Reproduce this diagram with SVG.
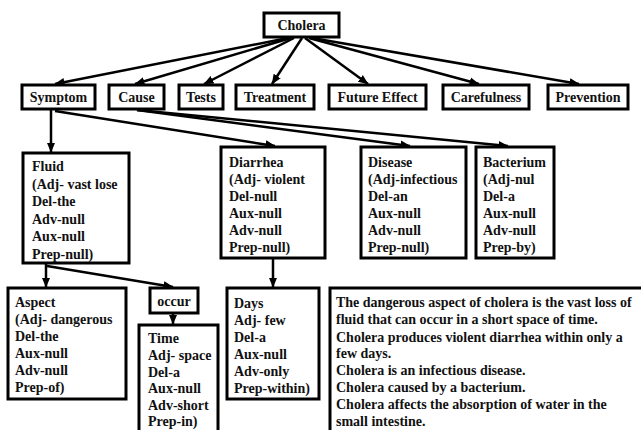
<svg xmlns="http://www.w3.org/2000/svg" width="641" height="430" viewBox="0 0 641 430">
  <style>
    .box { fill: #ffffff; stroke: #000000; stroke-width: 3; }
    .t { font-family: "Liberation Serif", "Times New Roman", serif; font-weight: bold; font-size: 14px; fill: #111111; }
    .c { text-anchor: middle; }
    .link { fill: none; stroke: #000000; stroke-width: 2.5; marker-end: url(#arrow); }
  </style>
  <defs>
    <marker id="arrow" markerUnits="userSpaceOnUse" markerWidth="10" markerHeight="10" viewBox="0 0 10 10" refX="9.5" refY="5" orient="auto">
      <path d="M0,0.8 L10,5 L0,9.2 z" fill="#000000"/>
    </marker>
  </defs>
  <rect width="641" height="430" fill="#ffffff"/>

  <!-- connectors -->
  <g id="connectors">
    <line class="link" x1="288" y1="38" x2="55" y2="84"/>
    <line class="link" x1="291" y1="38" x2="135" y2="84"/>
    <line class="link" x1="294" y1="38" x2="204" y2="84"/>
    <line class="link" x1="302" y1="38" x2="272" y2="84"/>
    <line class="link" x1="305" y1="38" x2="368" y2="84"/>
    <line class="link" x1="309" y1="38" x2="479" y2="84"/>
    <line class="link" x1="312" y1="38" x2="579" y2="84"/>
    <line class="link" x1="51" y1="110" x2="51" y2="152"/>
    <line class="link" x1="55" y1="111" x2="275" y2="146"/>
    <line class="link" x1="137" y1="110" x2="410" y2="146"/>
    <line class="link" x1="137" y1="110" x2="508" y2="146"/>
    <line class="link" x1="46" y1="264" x2="46" y2="287"/>
    <line class="link" x1="47" y1="266" x2="173" y2="287"/>
    <line class="link" x1="273" y1="258" x2="273" y2="287"/>
    <line class="link" x1="173" y1="314" x2="173" y2="324"/>
  </g>

  <!-- top node -->
  <g id="cholera">
    <rect class="box" x="264" y="13" width="75" height="24"/>
    <text class="t c" x="301.5" y="30">Cholera</text>
  </g>

  <!-- second level -->
  <g id="symptom">
    <rect class="box" x="22" y="85" width="73" height="24"/>
    <text class="t c" x="58.5" y="102">Symptom</text>
  </g>
  <g id="cause">
    <rect class="box" x="109" y="85" width="55" height="24"/>
    <text class="t c" x="136.5" y="102">Cause</text>
  </g>
  <g id="tests">
    <rect class="box" x="179" y="85" width="44" height="24"/>
    <text class="t c" x="201" y="102">Tests</text>
  </g>
  <g id="treatment">
    <rect class="box" x="236" y="85" width="78" height="24"/>
    <text class="t c" x="275" y="102">Treatment</text>
  </g>
  <g id="future-effect">
    <rect class="box" x="329" y="85" width="97" height="24"/>
    <text class="t c" x="377.5" y="102">Future Effect</text>
  </g>
  <g id="carefulness">
    <rect class="box" x="443" y="85" width="86" height="24"/>
    <text class="t c" x="486" y="102">Carefulness</text>
  </g>
  <g id="prevention">
    <rect class="box" x="548" y="85" width="80" height="24"/>
    <text class="t c" x="588" y="102">Prevention</text>
  </g>

  <!-- third level -->
  <g id="fluid">
    <rect class="box" x="23" y="153" width="106" height="110"/>
    <text class="t" x="32" y="171">Fluid</text>
    <text class="t" x="32" y="188.5">(Adj- vast lose</text>
    <text class="t" x="32" y="206">Del-the</text>
    <text class="t" x="32" y="223.5">Adv-null</text>
    <text class="t" x="32" y="241">Aux-null</text>
    <text class="t" x="32" y="258.5">Prep-null)</text>
  </g>
  <g id="diarrhea">
    <rect class="box" x="221" y="147" width="104" height="111"/>
    <text class="t" x="229" y="167">Diarrhea</text>
    <text class="t" x="229" y="184">(Adj- violent</text>
    <text class="t" x="229" y="201">Del-null</text>
    <text class="t" x="229" y="218">Aux-null</text>
    <text class="t" x="229" y="235">Adv-null</text>
    <text class="t" x="229" y="252">Prep-null)</text>
  </g>
  <g id="disease">
    <rect class="box" x="361" y="147" width="105" height="111"/>
    <text class="t" x="368" y="167">Disease</text>
    <text class="t" x="368" y="184">(Adj-infectious</text>
    <text class="t" x="368" y="201">Del-an</text>
    <text class="t" x="368" y="218">Aux-null</text>
    <text class="t" x="368" y="235">Adv-null</text>
    <text class="t" x="368" y="252">Prep-null)</text>
  </g>
  <g id="bacterium">
    <rect class="box" x="476" y="147" width="78" height="111"/>
    <text class="t" x="483" y="167">Bacterium</text>
    <text class="t" x="483" y="184">(Adj-nul</text>
    <text class="t" x="483" y="201">Del-a</text>
    <text class="t" x="483" y="218">Aux-null</text>
    <text class="t" x="483" y="235">Adv-null</text>
    <text class="t" x="483" y="252">Prep-by)</text>
  </g>

  <!-- fourth level -->
  <g id="aspect">
    <rect class="box" x="8" y="288" width="118" height="111"/>
    <text class="t" x="15" y="307">Aspect</text>
    <text class="t" x="15" y="324">(Adj- dangerous</text>
    <text class="t" x="15" y="341">Del-the</text>
    <text class="t" x="15" y="358">Aux-null</text>
    <text class="t" x="15" y="375">Adv-null</text>
    <text class="t" x="15" y="392">Prep-of)</text>
  </g>
  <g id="occur">
    <rect class="box" x="150" y="288" width="48" height="25"/>
    <text class="t c" x="174" y="306">occur</text>
  </g>
  <g id="time">
    <rect class="box" x="139" y="325" width="79" height="120"/>
    <text class="t" x="148" y="343">Time</text>
    <text class="t" x="148" y="360">Adj- space</text>
    <text class="t" x="148" y="377">Del-a</text>
    <text class="t" x="148" y="393">Aux-null</text>
    <text class="t" x="148" y="410">Adv-short</text>
    <text class="t" x="148" y="426">Prep-in)</text>
  </g>
  <g id="days">
    <rect class="box" x="227" y="288" width="92" height="111"/>
    <text class="t" x="234" y="308">Days</text>
    <text class="t" x="234" y="325">Adj- few</text>
    <text class="t" x="234" y="342">Del-a</text>
    <text class="t" x="234" y="359">Aux-null</text>
    <text class="t" x="234" y="376">Adv-only</text>
    <text class="t" x="234" y="393">Prep-within)</text>
  </g>

  <!-- summary sentences -->
  <g id="summary">
    <rect class="box" x="330" y="288" width="330" height="160"/>
    <text class="t" x="336" y="307">The dangerous aspect of cholera is the vast loss of</text>
    <text class="t" x="336" y="324">fluid that can occur in a short space of time.</text>
    <text class="t" x="336" y="342">Cholera produces violent diarrhea within only a</text>
    <text class="t" x="336" y="358">few days.</text>
    <text class="t" x="336" y="375">Cholera is an infectious disease.</text>
    <text class="t" x="336" y="392">Cholera caused by a bacterium.</text>
    <text class="t" x="336" y="409">Cholera affects the absorption of water in the</text>
    <text class="t" x="336" y="426">small intestine.</text>
  </g>
</svg>
